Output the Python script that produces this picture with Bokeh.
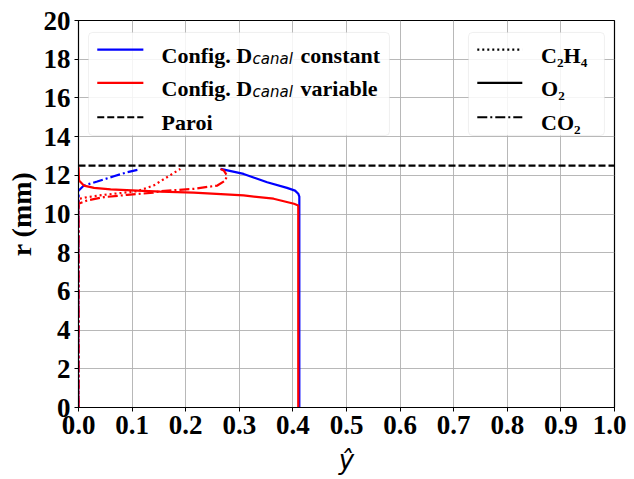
from bokeh.plotting import figure
from bokeh.models import (FixedTicker, PrintfTickFormatter, Range1d, Span,
                          BoxAnnotation, Label)
from bokeh.embed import file_html
from bokeh.resources import INLINE

# ---------------- data ----------------
x_ticks = [0.0, 0.1, 0.2, 0.3, 0.4, 0.5, 0.6, 0.7, 0.8, 0.9, 1.0]
r_ticks = [0, 2, 4, 6, 8, 10, 12, 14, 16, 18, 20]
paroi_r = 12.5

# Config. D_canal constant (blue)
const_o2_r = [0.0, 10.90, 11.05, 11.21, 11.35, 11.64, 12.07, 12.33]
const_o2_y = [0.412, 0.412, 0.410, 0.404, 0.389, 0.352, 0.308, 0.265]
const_co2_r = [0.0, 10.80, 11.20, 11.47, 11.68, 11.95, 12.16, 12.30]
const_co2_y = [0.0, 0.0, 0.0, 0.010, 0.035, 0.066, 0.091, 0.113]
const_c2h4_r = [0.0, 11.0]
const_c2h4_y = [0.0, 0.0]

# Config. D_canal variable (red)
var_o2_r = [0.0, 10.44, 10.53, 10.79, 10.96, 11.10, 11.16, 11.21, 11.27,
            11.35, 11.47, 11.73, 12.42]
var_o2_y = [0.410, 0.410, 0.402, 0.364, 0.308, 0.215, 0.153, 0.110, 0.060,
            0.029, 0.010, 0.001, 0.0]
var_co2_r = [0.0, 10.53, 10.70, 10.87, 10.99, 11.10, 11.18, 11.30, 11.47,
             11.73, 11.99, 12.25, 12.33]
var_co2_y = [0.0, 0.0, 0.016, 0.047, 0.091, 0.140, 0.153, 0.215, 0.259,
             0.274, 0.277, 0.271, 0.265]
var_c2h4_r = [0.0, 10.78, 10.87, 10.99, 11.10, 11.18, 11.47, 11.90, 12.33]
var_c2h4_y = [0.0, 0.0, 0.016, 0.047, 0.085, 0.110, 0.140, 0.165, 0.190]

BLUE = "#0000ff"
RED = "#ff0000"
LW = 2.2
DOT = "2 3"
DASHDOT = "10 3 2 3"
SERIF = "Liberation Serif"

p = figure(width=626, height=479, output_backend="svg", toolbar_location=None,
           x_range=Range1d(0, 1), y_range=Range1d(0, 20),
           min_border_left=78, min_border_right=12, min_border_top=20,
           min_border_bottom=72)
p.background_fill_color = "white"
p.border_fill_color = "white"
p.outline_line_color = "black"
p.outline_line_width = 1.2

# axes
p.xaxis.ticker = FixedTicker(ticks=x_ticks)
p.yaxis.ticker = FixedTicker(ticks=r_ticks)
p.xaxis.formatter = PrintfTickFormatter(format="%.1f")
p.yaxis.formatter = PrintfTickFormatter(format="%d")
for ax in (p.xaxis, p.yaxis):
    ax.major_label_text_font = SERIF
    ax.major_label_text_font_style = "bold"
    ax.major_label_text_font_size = "27px"
    ax.major_label_text_color = "black"
    ax.major_tick_out = 4
    ax.major_tick_in = 0
    ax.minor_tick_out = 0
    ax.minor_tick_in = 0
    ax.axis_line_color = "black"
    ax.major_tick_line_color = "black"
    ax.major_label_standoff = 4
p.xaxis.axis_label = "ŷ"
p.xaxis.axis_label_text_font = "DejaVu Sans"
p.xaxis.axis_label_text_font_style = "italic"
p.xaxis.axis_label_text_font_size = "26px"
p.xaxis.axis_label_standoff = 8
p.yaxis.axis_label = "r (mm)"
p.yaxis.axis_label_text_font = SERIF
p.yaxis.axis_label_text_font_style = "bold"
p.yaxis.axis_label_text_font_size = "28px"
p.yaxis.axis_label_standoff = 4
for ax in (p.xaxis, p.yaxis):
    ax.axis_label_text_color = "black"

p.xgrid.grid_line_color = "#b0b0b0"
p.ygrid.grid_line_color = "#b0b0b0"
p.xgrid.grid_line_width = 0.9
p.ygrid.grid_line_width = 0.9

# curves: blue first, red on top
p.line(const_c2h4_y, const_c2h4_r, line_color=BLUE, line_width=LW, line_dash=DOT)
p.line(const_o2_y, const_o2_r, line_color=BLUE, line_width=LW)
p.line(const_co2_y, const_co2_r, line_color=BLUE, line_width=LW, line_dash=DASHDOT)
p.line(var_c2h4_y, var_c2h4_r, line_color=RED, line_width=LW, line_dash=DOT)
p.line(var_o2_y, var_o2_r, line_color=RED, line_width=LW)
p.line(var_co2_y, var_co2_r, line_color=RED, line_width=LW, line_dash=DASHDOT)

# wall
p.add_layout(Span(location=paroi_r, dimension="width", line_color="black",
                  line_width=2.2, line_dash="7 3"))

# ---------------- legends (drawn manually to keep the subscripts) ----------------
box_top, box_bottom = 19.38, 14.06
row_line = [18.50, 16.78, 15.00]
row_base = [18.19, 16.47, 14.74]


def legend_box(left, right):
    p.add_layout(BoxAnnotation(left=left, right=right, top=box_top,
                               bottom=box_bottom, fill_color="white",
                               fill_alpha=0.85, line_color="#cccccc",
                               line_width=1, border_radius=4,
                               level="annotation"))


def sample(x0, x1, r, color, dash):
    p.line([x0, x1], [r, r], line_color=color, line_width=LW, line_dash=dash,
           level="overlay")


def text(x, r, s, dx=0, size="22px", font=SERIF, style="bold", dy=0):
    p.add_layout(Label(x=x, y=r, text=s, x_offset=dx, y_offset=dy,
                       text_font=font, text_font_style=style,
                       text_font_size=size, text_color="black",
                       text_baseline="alphabetic", level="overlay"))


# legend 1: configurations
legend_box(0.0187, 0.5802)
sample(0.035, 0.121, row_line[0], BLUE, "solid")
sample(0.035, 0.121, row_line[1], RED, "solid")
sample(0.035, 0.121, row_line[2], "black", "7 3")
tx = 0.155
for i, word in enumerate(["constant", "variable"]):
    text(tx, row_base[i], "Config. D")
    text(tx, row_base[i], "canal", dx=91, size="15px", font="DejaVu Sans",
         style="italic", dy=-3)
    text(tx, row_base[i], word, dx=139)
text(tx, row_base[2], "Paroi")

# legend 2: species
legend_box(0.7276, 0.9813)
sample(0.744, 0.828, row_line[0], "black", DOT)
sample(0.744, 0.828, row_line[1], "black", "solid")
sample(0.744, 0.828, row_line[2], "black", DASHDOT)
tx2 = 0.863
text(tx2, row_base[0], "C₂H₄")
text(tx2, row_base[1], "O₂")
text(tx2, row_base[2], "CO₂")

open("out.html", "w").write(file_html(p, INLINE))
